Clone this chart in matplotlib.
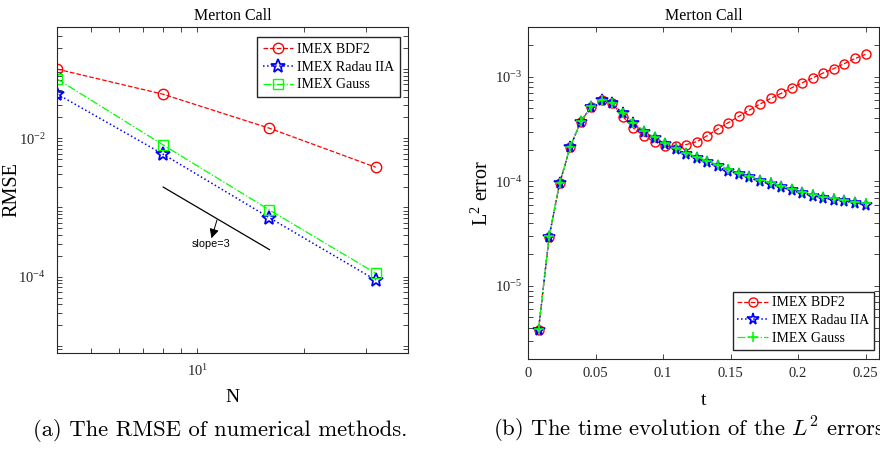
import numpy as np
import matplotlib
matplotlib.use("Agg")
import matplotlib.pyplot as plt
from matplotlib.ticker import FixedLocator, NullFormatter, LogFormatterSciNotation, LogLocator

plt.rcParams['font.family'] = ['Liberation Serif', 'DejaVu Serif']
plt.rcParams['mathtext.fontset'] = 'custom'
plt.rcParams['mathtext.rm'] = 'Liberation Serif'
plt.rcParams['mathtext.it'] = 'Liberation Serif:italic'

# left panel: RMSE vs N
N = [4, 8, 16, 32]
rmse_bdf2 = [0.0998, 0.0432, 0.01395, 0.00381]
rmse_radau = [0.0437, 0.00587, 7.1e-4, 8.95e-5]
rmse_gauss = [0.0719, 0.0080, 9.2e-4, 1.12e-4]
slope_N = [8, 16]
slope_val = [1.97e-3, 2.46e-4]

# right panel: L2 error vs t (t = k/128)
t = [k / 128 for k in range(1, 33)]
err_bdf2 = [3.81e-6, 2.95e-5, 9.6e-5, 2.13e-4, 3.73e-4, 5.18e-4, 6.0e-4, 5.57e-4,
            4.16e-4, 3.23e-4, 2.72e-4, 2.40e-4, 2.16e-4, 2.2e-4, 2.25e-4, 2.40e-4,
            2.74e-4, 3.18e-4, 3.65e-4, 4.2e-4, 4.82e-4, 5.5e-4, 6.22e-4, 6.95e-4,
            7.86e-4, 8.77e-4, 9.78e-4, 1.09e-3, 1.20e-3, 1.34e-3, 1.50e-3, 1.64e-3]
err_radau = [3.81e-6, 2.95e-5, 9.6e-5, 2.13e-4, 3.73e-4, 5.18e-4, 6.0e-4, 5.57e-4,
             4.48e-4, 3.6e-4, 2.99e-4, 2.59e-4, 2.29e-4, 2.03e-4, 1.82e-4, 1.67e-4,
             1.52e-4, 1.39e-4, 1.27e-4, 1.17e-4, 1.09e-4, 1.0e-4, 9.5e-5, 8.77e-5,
             8.2e-5, 7.74e-5, 7.3e-5, 6.95e-5, 6.7e-5, 6.45e-5, 6.22e-5, 6.0e-5]
err_gauss = [3.85e-6, 2.98e-5, 9.7e-5, 2.15e-4, 3.76e-4, 5.22e-4, 6.04e-4, 5.62e-4,
             4.53e-4, 3.66e-4, 3.05e-4, 2.65e-4, 2.35e-4, 2.09e-4, 1.88e-4, 1.72e-4,
             1.57e-4, 1.44e-4, 1.31e-4, 1.21e-4, 1.12e-4, 1.04e-4, 9.8e-5, 9.05e-5,
             8.45e-5, 7.98e-5, 7.52e-5, 7.16e-5, 6.9e-5, 6.64e-5, 6.4e-5, 6.18e-5]

labels = ["IMEX BDF2", "IMEX Radau IIA", "IMEX Gauss"]
dark = '#262626'

fig = plt.figure(figsize=(8.8, 4.53), dpi=100)
ax1 = fig.add_axes([57/880, 1 - 353/453, 351/880, 326/453])
ax2 = fig.add_axes([528/880, 1 - 359/453, 351/880, 332/453])

def style(ax):
    for s in ax.spines.values():
        s.set_color(dark)
        s.set_linewidth(0.8)
    ax.tick_params(which='both', direction='in', top=True, right=True,
                   length=3.5, width=0.6, color=dark, labelcolor=dark, labelsize=10.5)

# ---- left plot
ax1.loglog(N, rmse_bdf2, '--o', color='red', mfc='none', ms=7.5, lw=0.9, label=labels[0])
ax1.loglog(N, rmse_radau, ':*', color='blue', mfc='none', ms=10, mew=1.3, lw=1.1, label=labels[1])
ax1.loglog(N, rmse_gauss, '-.s', color='#00ff00', mfc='none', ms=6.5, lw=0.9, label=labels[2])
ax1.loglog(slope_N, slope_val, '-', color='black', lw=0.9)
ax1.annotate('', xy=(10.96, 3.59e-4), xytext=(11.36, 6.59e-4),
             arrowprops=dict(arrowstyle='-|>', color='black', lw=0.7, mutation_scale=14,
                             shrinkA=0, shrinkB=0))
ax1.text(10.9, 2.97e-4, 'slope=3', family='Liberation Sans', fontsize=7.8,
         ha='center', va='center')
ax1.set_xlim(4, 39.5)
ax1.set_ylim(7.9e-6, 0.405)
style(ax1)
ax1.xaxis.set_major_locator(FixedLocator([10]))
ax1.xaxis.set_minor_locator(FixedLocator([5, 6, 7, 8, 9, 20, 30]))
ax1.xaxis.set_major_formatter(LogFormatterSciNotation())
ax1.xaxis.set_minor_formatter(NullFormatter())
ax1.yaxis.set_major_locator(FixedLocator([1e-4, 1e-2]))
ymin = [m * 10.0**e for e in range(-6, 0) for m in range(1, 10) if not (m == 1 and e in (-4, -2))]
ax1.yaxis.set_minor_locator(FixedLocator(ymin))
ax1.yaxis.set_major_formatter(LogFormatterSciNotation())
ax1.yaxis.set_minor_formatter(NullFormatter())
ax1.tick_params(axis='y', which='both', pad=8)
ax1.tick_params(axis='x', which='both', pad=7)
ax1.set_title('Merton Call', fontsize=11.5, pad=5)
ax1.set_xlabel('N', fontsize=14, labelpad=7.5)
ax1.set_ylabel('RMSE', fontsize=14.5)
ax1.yaxis.set_label_coords(-0.1026, 0.5)
ax1.legend(loc='upper right', bbox_to_anchor=(0.977, 0.969), borderaxespad=0,
           fancybox=False, edgecolor=dark, framealpha=1, fontsize=10,
           handlelength=2.2, labelspacing=0.35, borderpad=0.4, handletextpad=0.3)

# ---- right plot
ax2.semilogy(t, err_bdf2, '--o', color='red', mfc='none', ms=6.5, lw=0.9, label=labels[0])
ax2.semilogy(t, err_radau, ':*', color='blue', mfc='none', ms=8.5, mew=1.2, lw=1.1, label=labels[1])
ax2.semilogy(t, err_gauss, '-.+', color='#00ff00', ms=7, mew=1.2, lw=0.9, label=labels[2])
ax2.set_xlim(0, 0.26)
ax2.set_ylim(2.0e-6, 3.0e-3)
style(ax2)
ax2.set_xticks([0, 0.05, 0.1, 0.15, 0.2, 0.25])
ax2.set_xticklabels(['0', '0.05', '0.1', '0.15', '0.2', '0.25'])
ax2.yaxis.set_major_locator(LogLocator(base=10))
ax2.yaxis.set_minor_locator(LogLocator(base=10, subs=np.arange(2, 10)))
ax2.yaxis.set_minor_formatter(NullFormatter())
ax2.tick_params(axis='x', which='both', pad=6)
ax2.tick_params(axis='y', which='both', pad=4)
ax2.set_title('Merton Call', fontsize=11.5, pad=5)
ax2.set_xlabel('t', fontsize=14, labelpad=8.5)
ax2.set_ylabel('L$^2$ error', fontsize=14.5)
ax2.yaxis.set_label_coords(-0.0997, 0.5)
ax2.legend(loc='lower right', bbox_to_anchor=(0.986, 0.027), borderaxespad=0,
           fancybox=False, edgecolor=dark, framealpha=1, fontsize=10,
           handlelength=2.2, labelspacing=0.35, borderpad=0.35, handletextpad=0.3)

# captions
fig.text(220/880, 1 - 430/453, '(a) The RMSE of numerical methods.', family='cmr10',
         math_fontfamily='cm', fontsize=16.3, ha='center', va='center')
fig.text(493/880, 1 - 430/453, '(b) The time evolution of the $L^2$ errors.', family='cmr10',
         math_fontfamily='cm', fontsize=16.3, ha='left', va='center')

fig.savefig('out.png', dpi=100)
